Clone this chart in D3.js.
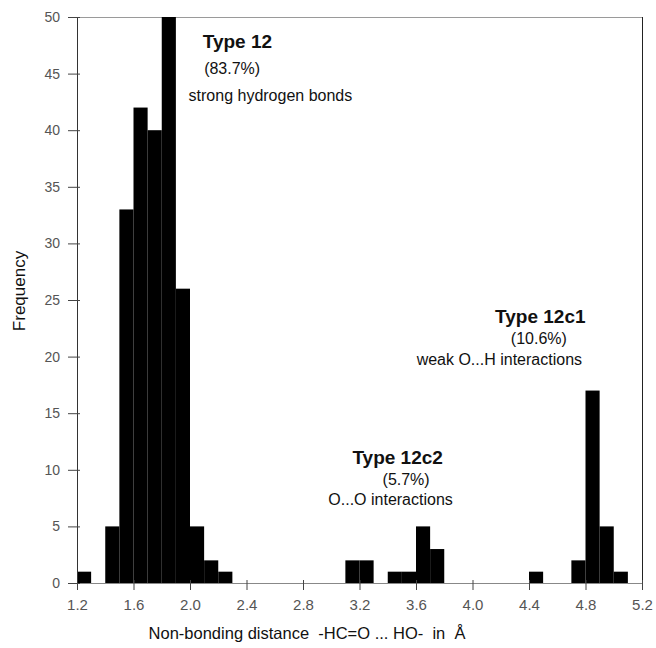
<!DOCTYPE html>
<html>
<head>
<meta charset="utf-8">
<script src="https://cdn.jsdelivr.net/npm/d3@7"></script>
<style>
	body { margin: 0; background: #fff; }
	text { font-family: "Liberation Sans", Arial, sans-serif; }
</style>
</head>
<body>
<div id="chart"></div>
<script>
// histogram bins (start of each 0.1 A bin) and their frequencies
var binStarts = [1.2, 1.3, 1.4, 1.5, 1.6, 1.7, 1.8, 1.9, 2.0, 2.1, 2.2, 2.3, 2.4, 2.5, 2.6, 2.7, 2.8, 2.9, 3.0, 3.1,
	3.2, 3.3, 3.4, 3.5, 3.6, 3.7, 3.8, 3.9, 4.0, 4.1, 4.2, 4.3, 4.4, 4.5, 4.6, 4.7, 4.8, 4.9, 5.0, 5.1];
var counts = [1, 0, 5, 33, 42, 40, 50, 26, 5, 2, 1, 0, 0, 0, 0, 0, 0, 0, 0, 2,
	2, 0, 1, 1, 5, 3, 0, 0, 0, 0, 0, 0, 1, 0, 0, 2, 17, 5, 1, 0];
var binWidth = 0.1;

var xTicks = [1.2, 1.6, 2.0, 2.4, 2.8, 3.2, 3.6, 4.0, 4.4, 4.8, 5.2];
var yTicks = [0, 5, 10, 15, 20, 25, 30, 35, 40, 45, 50];

// annotation lines: text, x (distance), y (frequency), bold
var noteText = ["Type 12", "(83.7%)", "strong hydrogen bonds",
	"Type 12c2", "(5.7%)", "O...O interactions",
	"Type 12c1", "(10.6%)", "weak O...H interactions"];
var noteX = [2.09, 2.10, 1.99, 3.47, 3.53, 3.42, 4.48, 4.47, 4.19];
var noteY = [47.3, 45.0, 42.6, 10.5, 8.7, 6.9, 23.0, 21.1, 19.3];
var noteBold = [true, false, false, true, false, false, true, false, false];
var noteAnchor = ["start", "start", "start", "middle", "middle", "middle", "middle", "middle", "middle"];

(function() {
	var margin = { top: 17, left: 77, right: 14, bottom: 65 },
		width = 656 - margin.left - margin.right,
		height = 648 - margin.top - margin.bottom;

	var svg = d3.select("#chart")
		.append("svg")
		.attr("width", width + margin.left + margin.right)
		.attr("height", height + margin.top + margin.bottom)
		.append("g")
		.attr("transform", "translate(" + margin.left + "," + margin.top + ")");

	var x = d3.scaleLinear()
		.domain([1.2, 5.2])
		.range([0, 565]);

	var y = d3.scaleLinear()
		.domain([0, 50])
		.range([height, 0]);

	var bins = binStarts.map(function(b, i) { return { x0: b, n: counts[i] }; });

	// top and right frame
	svg.append("line")
		.attr("x1", 0).attr("x2", x(5.2))
		.attr("y1", 0.5).attr("y2", 0.5)
		.attr("stroke", "#9a9a9a");
	svg.append("line")
		.attr("x1", x(5.2) + 0.5).attr("x2", x(5.2) + 0.5)
		.attr("y1", 0).attr("y2", height)
		.attr("stroke", "#222");

	// bars
	svg.selectAll(".bar")
		.data(bins.filter(function(d) { return d.n > 0; }))
		.enter().append("rect")
		.attr("class", "bar")
		.attr("x", function(d) { return x(d.x0); })
		.attr("width", function(d) { return x(d.x0 + binWidth) - x(d.x0); })
		.attr("y", function(d) { return y(d.n); })
		.attr("height", function(d) { return height - y(d.n); })
		.attr("fill", "#000");

	// x axis
	var xAxis = svg.append("g")
		.attr("transform", "translate(0," + height + ")")
		.call(d3.axisBottom(x).tickValues(xTicks).tickFormat(d3.format(".1f")).tickSizeInner(7).tickSizeOuter(0).tickPadding(9));
	xAxis.select(".domain").attr("stroke", "#888");
	xAxis.selectAll(".tick line").attr("stroke", "#444").attr("y1", -3);
	xAxis.selectAll(".tick text").attr("fill", "#555").style("font-size", "15px").attr("font-family", null);

	// y axis
	var yAxis = svg.append("g")
		.call(d3.axisLeft(y).tickValues(yTicks).tickSizeInner(9).tickSizeOuter(0).tickPadding(8));
	yAxis.select(".domain").attr("stroke", "#333");
	yAxis.selectAll(".tick line").attr("stroke", "#444").attr("x1", 3);
	yAxis.selectAll(".tick text").attr("fill", "#555").style("font-size", "14px").attr("font-family", null);

	// annotations
	svg.selectAll(".note")
		.data(noteText)
		.enter().append("text")
		.attr("class", "note")
		.attr("x", function(d, i) { return x(noteX[i]); })
		.attr("y", function(d, i) { return y(noteY[i]); })
		.attr("text-anchor", function(d, i) { return noteAnchor[i]; })
		.style("font-size", function(d, i) { return noteBold[i] ? "19px" : "16px"; })
		.style("font-weight", function(d, i) { return noteBold[i] ? "bold" : "normal"; })
		.attr("fill", "#111")
		.text(function(d) { return d; });

	// axis titles
	svg.append("text")
		.attr("x", 230)
		.attr("y", height + 56)
		.attr("text-anchor", "middle")
		.style("font-size", "16.5px")
		.style("white-space", "pre")
		.attr("fill", "#111")
		.text("Non-bonding distance  -HC=O ... HO-  in  \u00C5");

	svg.append("text")
		.attr("transform", "translate(" + (25 - margin.left) + "," + (291 - margin.top) + ") rotate(-90)")
		.attr("text-anchor", "middle")
		.style("font-size", "17px")
		.attr("fill", "#111")
		.text("Frequency");
})();
</script>
</body>
</html>
